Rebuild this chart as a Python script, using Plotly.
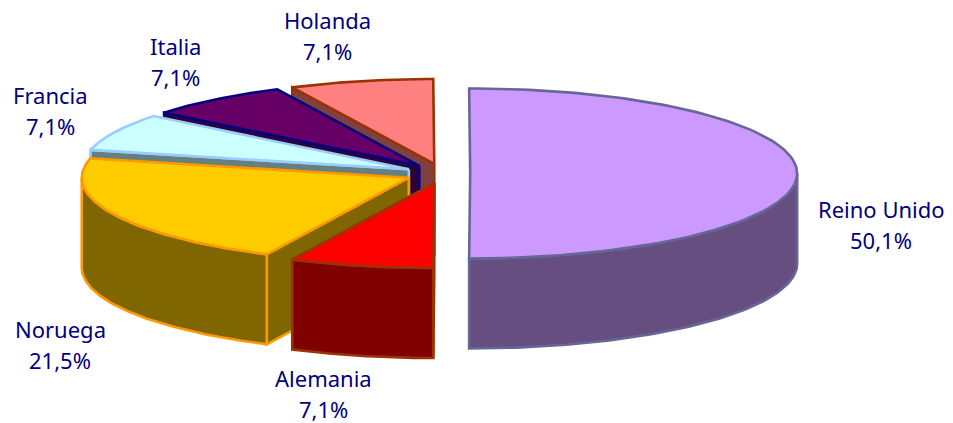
import numpy as np
import plotly.graph_objects as go

categories = ["Reino Unido", "Alemania", "Noruega", "Francia", "Italia", "Holanda"]
values = [50.1, 7.1, 21.5, 7.1, 7.1, 7.1]

top_colors = ["#CC99FF", "#FF0000", "#FFCC00", "#CCFFFF", "#660066", "#FF8080"]
side_colors = ["#664F80", "#800000", "#806600", "#668080", "#330033", "#804040"]
line_colors = ["#666699", "#993300", "#FF9900", "#99CCFF", "#000080", "#993300"]
explode = [0.084, 0.115, 0.115, 0.115, 0.115, 0.115]
label_x = [881, 323, 60, 50, 175, 327]
label_y = [209, 378, 329, 95, 46, 20]

W, H = 953, 423
CX, CY, RX, RY, DEPTH = 442.7, 173.5, 327, 85, 90
START_DEG = -0.18
LINE_GAP = 31
FONT = "Noto Sans"
FONT_SIZE = 22
TEXT_COLOR = "#000080"

fig = go.Figure()


def poly(xs, ys, fill, line):
    fig.add_trace(go.Scatter(
        x=list(xs) + [xs[0]], y=list(ys) + [ys[0]], mode="lines", fill="toself",
        fillcolor=fill, line=dict(color=line, width=2.6), hoverinfo="skip", showlegend=False,
    ))


def rim(cx, cy, a):
    return cx + RX * np.sin(a), cy - RY * np.cos(a)


total = sum(values)
fracs = np.cumsum([0] + values) / total * 2 * np.pi + np.radians(START_DEG)
slices = []
for i in range(len(values)):
    a0, a1 = fracs[i], fracs[i + 1]
    mid = (a0 + a1) / 2
    cx = CX + explode[i] * RX * np.sin(mid)
    cy = CY - explode[i] * RY * np.cos(mid)
    slices.append((i, a0, a1, cx, cy))

# back-to-front: the slices furthest from the viewer first, big front slice last
for i, a0, a1, cx, cy in [slices[k] for k in (5, 4, 3, 2, 1, 0)]:
    # visible radial cut faces
    for a, vis in ((a0, a0 >= np.pi), (a1, a1 < np.pi)):
        if vis:
            x, y = rim(cx, cy, a)
            poly([cx, x, x, cx], [cy, y, y + DEPTH, cy + DEPTH], side_colors[i], line_colors[i])
    # outer wall: only the front half of the rim
    w0, w1 = max(a0, np.pi / 2), min(a1, 1.5 * np.pi)
    if w1 > w0:
        t = np.linspace(w0, w1, 90)
        x, y = rim(cx, cy, t)
        poly(np.r_[x, x[::-1]], np.r_[y, y[::-1] + DEPTH], side_colors[i], line_colors[i])
    # top
    t = np.linspace(a0, a1, 120)
    x, y = rim(cx, cy, t)
    poly(np.r_[cx, x], np.r_[cy, y], top_colors[i], line_colors[i])

for i, name in enumerate(categories):
    pct = f"{values[i]:.1f}".replace(".", ",") + "%"
    for k, txt in enumerate((name, pct)):
        fig.add_annotation(x=label_x[i], y=label_y[i] + k * LINE_GAP, text=txt, showarrow=False,
                           xanchor="center", yanchor="middle",
                           font=dict(family=FONT, size=FONT_SIZE, color=TEXT_COLOR))

fig.update_layout(
    width=W, height=H, margin=dict(l=0, r=0, t=0, b=0),
    paper_bgcolor="white", plot_bgcolor="white",
    xaxis=dict(range=[0, W], visible=False, fixedrange=True),
    yaxis=dict(range=[H, 0], visible=False, fixedrange=True),
)
fig.write_html("out.html", config={"displayModeBar": False},
               post_script="document.body.style.margin='0';")
